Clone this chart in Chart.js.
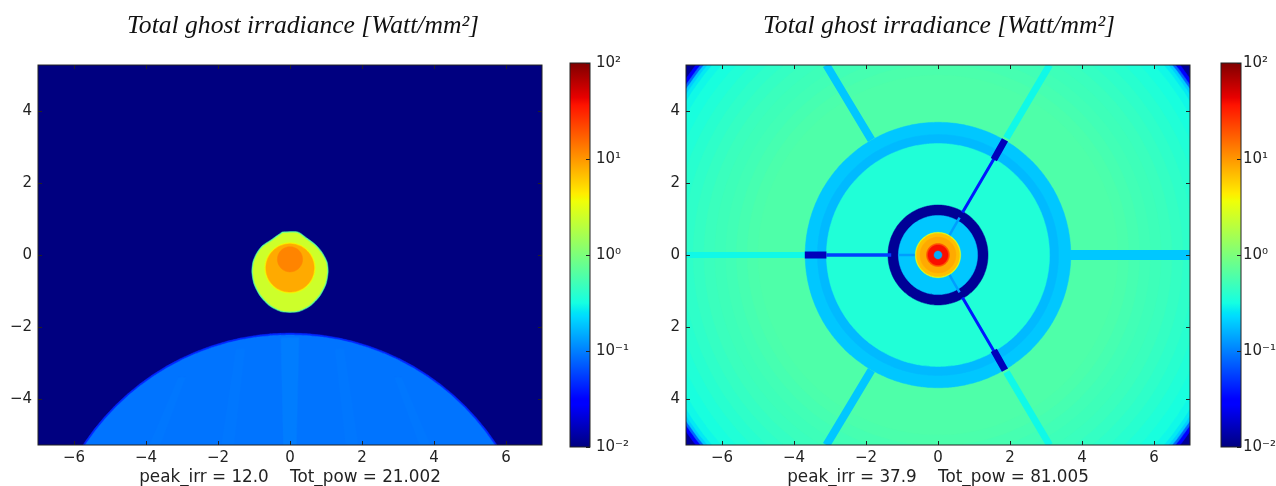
<!DOCTYPE html>
<html>
<head>
<meta charset="utf-8">
<style>
html,body{margin:0;padding:0;background:#fff;width:1276px;height:486px;overflow:hidden}
canvas{position:absolute;top:0;filter:blur(0.45px)}
</style>
<script src="https://cdn.jsdelivr.net/npm/chart.js@4/dist/chart.umd.min.js"></script>
</head>
<body>
<canvas id="leftMap" width="606" height="486" style="left:0"></canvas>
<canvas id="leftBar" width="80" height="486" style="left:560px"></canvas>
<canvas id="rightMap" width="578" height="486" style="left:650px"></canvas>
<canvas id="rightBar" width="65" height="486" style="left:1211px"></canvas>
<script>
const titleText = 'Total ghost irradiance [Watt/mm²]';
const leftCaption = 'peak_irr = 12.0    Tot_pow = 21.002';
const rightCaption = 'peak_irr = 37.9    Tot_pow = 81.005';
const xTicks = [-6,-4,-2,0,2,4,6];
const yTicks = [-4,-2,0,2,4];
const barTicks = [0.01,0.1,1,10,100];
const xExtent = [-7,7];
const yExtent = [-5.28,5.28];

// left panel: values and outlines
const leftBackground = 0.01;
const domeCentre = [0,-9.04];
const domeRadii = [6.87,6.82];
const domeValues = [0.045,0.09];
const domeStreaks = [
  [[-0.25,-2.3],[0.25,-2.3],[0.18,-5.28],[-0.18,-5.28]],
  [[-1.5,-2.6],[-1.25,-2.6],[-1.55,-5.28],[-1.9,-5.28]],
  [[1.25,-2.6],[1.5,-2.6],[1.9,-5.28],[1.55,-5.28]],
  [[-3.1,-3.4],[-2.9,-3.4],[-3.6,-5.28],[-3.9,-5.28]],
  [[2.9,-3.4],[3.1,-3.4],[3.9,-5.28],[3.6,-5.28]]
];
const domeStreakValues = [0.098,0.093,0.093,0.093,0.093];
const spotRim = [[-.22,.64],[.22,.64],[.47,.47],[.72,.28],[.89,.08],[1.03,-.19],[1.06,-.47],[1.0,-.81],[.83,-1.14],[.56,-1.42],[.22,-1.58],[-.22,-1.58],[-.56,-1.42],[-.83,-1.14],[-1.0,-.81],[-1.06,-.47],[-1.03,-.19],[-.94,.03],[-.78,.25],[-.5,.44]];
const spotBody = [[-.2,.61],[.2,.61],[.45,.44],[.69,.26],[.86,.06],[1.0,-.2],[1.03,-.47],[.97,-.8],[.8,-1.12],[.54,-1.39],[.21,-1.55],[-.21,-1.55],[-.54,-1.39],[-.8,-1.12],[-.97,-.8],[-1.03,-.47],[-1.0,-.2],[-.91,.02],[-.75,.23],[-.48,.41]];
const spotRimValue = 0.7;
const spotBodyValue = 2.5;
const coreCentres = [[0,-0.36],[0,-0.36],[0,-0.12]];
const coreRadii = [0.7,0.67,0.35];
const coreValues = [4,8.3,12.0];

// right panel
const rightCorner = 0.012;
const fieldRadii = [8.55,8.45,8.38,8.3,8.2,8.0,7.7,7.4,7.1,6.8,6.5,6.2,5.9,5.6,5.3,5.0];
const fieldValues = [0.03,0.08,0.2,0.26,0.3,0.33,0.36,0.39,0.42,0.45,0.48,0.5,0.52,0.55,0.58,0.6];
const discRadii = [3.69,3.35,3.1,1.39,1.1,0.63,0.6,0.5,0.32,0.28,0.11];
const discValues = [0.19,0.17,0.36,0.012,0.19,3,6.8,8.3,19,37.9,0.15];
const outerSpokes = [[[-1.85,3.2],[-3.1,5.28]],[[1.9,3.25],[3.1,5.28]],[[-1.85,-3.2],[-3.1,-5.28]],[[1.9,-3.25],[3.1,-5.28]],[[3.65,0],[7,0]],[[-3.65,0],[-7,0]]];
const outerSpokeValues = [0.19,0.3,0.19,0.3,0.19,0.3];
const thinSpokes = [[[0.68,1.18],[1.6,2.75]],[[0.68,-1.18],[1.6,-2.75]],[[-1.3,0],[-3.1,0]]];
const thinSpokeValues = [0.04,0.04,0.055];
const thickSpokes = [[[1.55,2.65],[1.86,3.2]],[[1.55,-2.65],[1.86,-3.2]],[[-3.1,0],[-3.7,0]]];
const thickSpokeValue = 0.016;
const faintSpokes = [[[0.3,0.52],[0.6,1.04]],[[0.3,-0.52],[0.6,-1.04]],[[-0.62,0],[-1.1,0]]];
const faintSpokeValue = 0.13;

// matplotlib jet colormap
const jetR = [[0,0],[.35,0],[.66,1],[.89,1],[1,.5]];
const jetG = [[0,0],[.125,0],[.375,1],[.64,1],[.91,0],[1,0]];
const jetB = [[0,.5],[.11,1],[.34,1],[.65,0],[1,0]];
function seg(t,n){for(let i=1;i<t.length;i++){if(n<=t[i][0]){const a=t[i-1],b=t[i];return a[1]+(b[1]-a[1])*(n-a[0])/(b[0]-a[0]);}}return t[t.length-1][1];}
function jet(n){return 'rgb('+[jetR,jetG,jetB].map(t=>Math.round(255*seg(t,n))).join(',')+')';}
function colour(v){return jet(Math.min(1,Math.max(0,(Math.log10(v)+2)/4)));}

function toXY(p){return p.map(q=>({x:q[0],y:q[1]}));}
function region(points,value,smooth){
  const pts=toXY(points.concat([points[0]]));
  return {data:pts,showLine:true,fill:'shape',backgroundColor:colour(value),borderColor:colour(value),borderWidth:0.5,pointRadius:0,pointHoverRadius:0,tension:smooth||0.001};
}
function disc(c,r,value){
  const pts=[];
  for(let i=0;i<96;i++){const a=i/96*2*Math.PI;pts.push([c[0]+r*Math.cos(a),c[1]+r*Math.sin(a)]);}
  return region(pts,value);
}
function spoke(p,value,w){
  return {data:toXY(p),showLine:true,fill:false,borderColor:colour(value),borderWidth:w,pointRadius:0,pointHoverRadius:0,tension:0.001};
}
const plotBox=[[xExtent[0],yExtent[0]],[xExtent[1],yExtent[0]],[xExtent[1],yExtent[1]],[xExtent[0],yExtent[1]]];

const leftLayers=[region(plotBox,leftBackground)];
domeRadii.forEach((r,i)=>leftLayers.push(disc(domeCentre,r,domeValues[i])));
domeStreaks.forEach((s,i)=>leftLayers.push(region(s,domeStreakValues[i])));
leftLayers.push(region(spotRim,spotRimValue,0.25));
leftLayers.push(region(spotBody,spotBodyValue,0.25));
coreRadii.forEach((r,i)=>leftLayers.push(disc(coreCentres[i],r,coreValues[i])));

const rightLayers=[region(plotBox,rightCorner)];
fieldRadii.forEach((r,i)=>rightLayers.push(disc([0,0],r,fieldValues[i])));
const outerW=[8,7,8,7,10,6];
outerSpokes.forEach((s,i)=>rightLayers.push(spoke(s,outerSpokeValues[i],outerW[i])));
discRadii.slice(0,5).forEach((r,i)=>rightLayers.push(disc([0,0],r,discValues[i])));
faintSpokes.forEach(s=>rightLayers.push(spoke(s,faintSpokeValue,2.5)));
discRadii.slice(5).forEach((r,i)=>rightLayers.push(disc([0,0],r,discValues[i+5])));
const thinW=[3,3,3.5];
thinSpokes.forEach((s,i)=>rightLayers.push(spoke(s,thinSpokeValues[i],thinW[i])));
thickSpokes.forEach(s=>rightLayers.push(spoke(s,thickSpokeValue,7)));

const frame={id:'frame',afterDatasetsDraw(c){
  const a=c.chartArea,g=c.ctx;g.save();g.strokeStyle='#222';g.lineWidth=1;
  g.strokeRect(a.left,a.top,a.width,a.height);
  g.beginPath();
  const xs=c.scales.x,ys=c.scales.y;
  if(xs.options.display&&xs.type==='linear'){xs.ticks.forEach(t=>{const p=Math.round(xs.getPixelForValue(t.value))+.5;g.moveTo(p,a.bottom);g.lineTo(p,a.bottom-4);g.moveTo(p,a.top);g.lineTo(p,a.top+4);});}
  ys.ticks.forEach(t=>{const p=Math.round(ys.getPixelForValue(t.value))+.5;
    if(xs.type==='linear'){g.moveTo(a.left,p);g.lineTo(a.left+4,p);}
    g.moveTo(a.right,p);g.lineTo(a.right-4,p);});
  g.stroke();g.restore();
}};
const tickFont={family:'"DejaVu Sans"',size:15};
const noGrid={display:false,drawTicks:false};
function mapChart(id,layers,caption,yAxisWidth,rightGap,absY){
  new Chart(document.getElementById(id),{
    type:'scatter',
    data:{datasets:layers.slice().reverse()},
    plugins:[frame],
    options:{responsive:false,animation:false,
      plugins:{legend:{display:false},tooltip:{enabled:false},
        title:{display:true,text:titleText,color:'#111',font:{family:'"Liberation Serif"',style:'italic',size:25.6,weight:'normal'},padding:{top:11,bottom:23.3}}},
      scales:{
        x:{type:'linear',min:xExtent[0],max:xExtent[1],
          afterBuildTicks:s=>{s.ticks=xTicks.map(v=>({value:v}));},
          afterFit:s=>{s.height=41;},
          grid:noGrid,border:{display:false},
          ticks:{color:'#222',font:tickFont,padding:4,maxRotation:0,autoSkip:false,callback:v=>String(v).replace('-','\u2212')},
          title:{display:true,text:caption,color:'#222',font:{family:'"DejaVu Sans"',size:16.8},padding:{top:0,bottom:-2}}},
        y:{type:'linear',min:yExtent[0],max:yExtent[1],
          afterBuildTicks:s=>{s.ticks=yTicks.map(v=>({value:v}));},
          afterFit:s=>{s.width=yAxisWidth;},
          grid:noGrid,border:{display:false},
          ticks:{color:'#222',font:tickFont,padding:6,autoSkip:false,callback:v=>absY?String(Math.abs(v)):String(v).replace('-','\u2212')}},
        gap:{type:'linear',position:'right',display:true,
          afterFit:s=>{s.width=rightGap;},
          grid:noGrid,border:{display:false},ticks:{display:false}}
      }}
  });
}
const sup={'-':'\u207b','0':'\u2070','1':'\u00b9','2':'\u00b2'};
function barChart(id,axisWidth,labelGap){
  const stops=[...new Set([...jetR,...jetG,...jetB].map(p=>p[0]))].sort((a,b)=>a-b);
  new Chart(document.getElementById(id),{
    type:'bar',
    data:{labels:['colorbar'],datasets:[{data:[[barTicks[0],barTicks[4]]],barPercentage:1,categoryPercentage:1,borderWidth:0,
      backgroundColor:ctx=>{const a=ctx.chart.chartArea;if(!a)return '#000';
        const g=ctx.chart.ctx.createLinearGradient(0,a.bottom,0,a.top);stops.forEach(s=>g.addColorStop(s,jet(s)));return g;}}]},
    plugins:[frame],
    options:{responsive:false,animation:false,
      layout:{padding:{left:10,right:0,top:63,bottom:39}},
      plugins:{legend:{display:false},tooltip:{enabled:false}},
      scales:{
        x:{type:'category',display:false},
        y:{type:'logarithmic',position:'right',min:barTicks[0],max:barTicks[4],
          afterBuildTicks:s=>{s.ticks=barTicks.map(v=>({value:v}));},
          afterFit:s=>{s.width=axisWidth;},
          grid:noGrid,border:{display:false},
          ticks:{color:'#222',font:{family:'"DejaVu Sans"',size:15},padding:labelGap,autoSkip:false,
            callback:v=>'10'+String(Math.round(Math.log10(v))).split('').map(c=>sup[c]).join('')}}
      }}
  });
}
mapChart('leftMap',leftLayers,leftCaption,38,64,false);
barChart('leftBar',50,6);
mapChart('rightMap',rightLayers,rightCaption,36,38,true);
barChart('rightBar',35,2);
</script>
</body>
</html>
